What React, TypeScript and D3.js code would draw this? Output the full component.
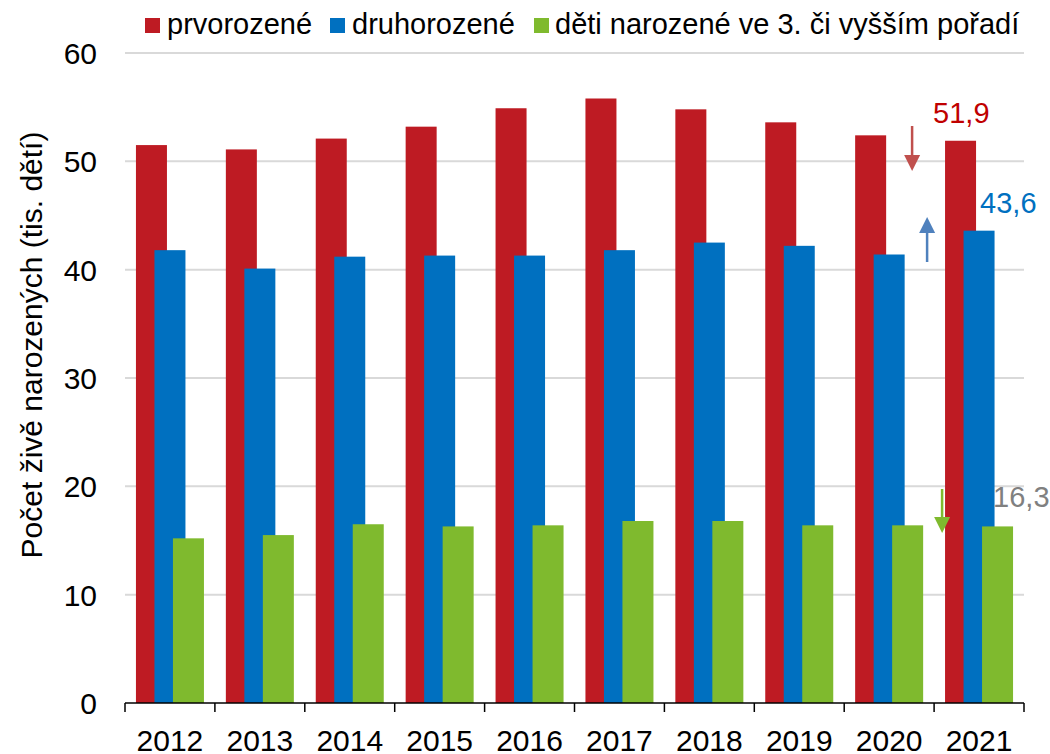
import React from "react";
import * as d3 from "d3";

const years = ["2012", "2013", "2014", "2015", "2016", "2017", "2018", "2019", "2020", "2021"];
const firstBorn = [51.5, 51.1, 52.1, 53.2, 54.9, 55.8, 54.8, 53.6, 52.4, 51.9];
const secondBorn = [41.8, 40.1, 41.2, 41.3, 41.3, 41.8, 42.5, 42.2, 41.4, 43.6];
const thirdPlus = [15.2, 15.5, 16.5, 16.3, 16.4, 16.8, 16.8, 16.4, 16.4, 16.3];
const yTicks = [0, 10, 20, 30, 40, 50, 60];
const seriesNames = ["prvorozené", "druhorozené", "děti narozené ve 3. či vyšším pořadí"];
const colors = ["#BE1B23", "#0070C0", "#7FBA2E"];

const W = 1050, H = 754;
const M = { left: 125, right: 1024, top: 53, bottom: 703 };
const FONT = "Liberation Sans, Arial, sans-serif";

export default function App() {
  const x = d3.scaleBand<string>().domain(years).range([M.left, M.right]).padding(0);
  const y = d3.scaleLinear().domain([0, 60]).range([M.bottom, M.top]);
  const bw = 31;
  const step = 18.5;
  const series = [firstBorn, secondBorn, thirdPlus];
  const last = years.length - 1;
  const lastX = x(years[last])!;
  const fmt = (v: number) => v.toFixed(1).replace(".", ",");

  const arrow = (cx: number, y1: number, y2: number, color: string) => {
    const dir = y2 > y1 ? 1 : -1;
    const head = 16;
    return (
      <g>
        <line x1={cx} x2={cx} y1={y1} y2={y2 - dir * head} stroke={color} strokeWidth={2.5} />
        <path d={`M${cx - 8},${y2 - dir * head} L${cx + 8},${y2 - dir * head} L${cx},${y2} Z`} fill={color} />
      </g>
    );
  };

  const legendItems = [
    { sx: 145, tx: 167 },
    { sx: 330, tx: 352 },
    { sx: 534, tx: 555 },
  ];

  return (
    <svg width={W} height={H} style={{ position: "absolute", left: 0, top: 0, background: "#fff" }} fontFamily={FONT}>
      {yTicks.slice(1).map((t) => (
        <line key={t} x1={M.left} x2={M.right} y1={y(t)} y2={y(t)} stroke="#D9D9D9" strokeWidth={2} />
      ))}
      {series.map((vals, si) =>
        years.map((yr, i) => {
          const c = x(yr)! + x.bandwidth() / 2;
          const bx = c - (2 * step + bw) / 2 + si * step;
          return (
            <rect key={si + "-" + yr} x={bx} y={y(vals[i])} width={bw} height={y(0) - y(vals[i])} fill={colors[si]} />
          );
        })
      )}
      <line x1={M.left} x2={M.right} y1={y(0)} y2={y(0)} stroke="#000" strokeWidth={1.5} />
      {d3.range(years.length + 1).map((i) => {
        const tx = M.left + i * x.bandwidth();
        return <line key={i} x1={tx} x2={tx} y1={y(0)} y2={y(0) + 9} stroke="#000" strokeWidth={1.5} />;
      })}
      {years.map((yr) => (
        <text key={yr} x={x(yr)! + x.bandwidth() / 2} y={751} textAnchor="middle" fontSize={30} fill="#000">
          {yr}
        </text>
      ))}
      {yTicks.map((t) => (
        <text key={t} x={97} y={y(t) + 11} textAnchor="end" fontSize={30} fill="#000">
          {t}
        </text>
      ))}
      <text transform={`translate(42,345) rotate(-90)`} textAnchor="middle" fontSize={30} fill="#000">
        Počet živě narozených (tis. dětí)
      </text>
      {seriesNames.map((n, i) => (
        <g key={n}>
          <rect x={legendItems[i].sx} y={18} width={15} height={15} fill={colors[i]} />
          <text x={legendItems[i].tx} y={34} fontSize={29} fill="#000">{n}</text>
        </g>
      ))}
      <text x={lastX - 1} y={123} fontSize={29} fill="#C00000">{fmt(firstBorn[last])}</text>
      <text x={lastX + 46} y={213} fontSize={29} fill="#0070C0">{fmt(secondBorn[last])}</text>
      <text x={lastX + 59} y={507} fontSize={29} fill="#808080">{fmt(thirdPlus[last])}</text>
      {arrow(lastX - 22, 126, 171, "#C0504D")}
      {arrow(lastX - 7, 262, 217, "#4F81BD")}
      {arrow(lastX + 8, 489, 533, "#7FBA2E")}
    </svg>
  );
}
